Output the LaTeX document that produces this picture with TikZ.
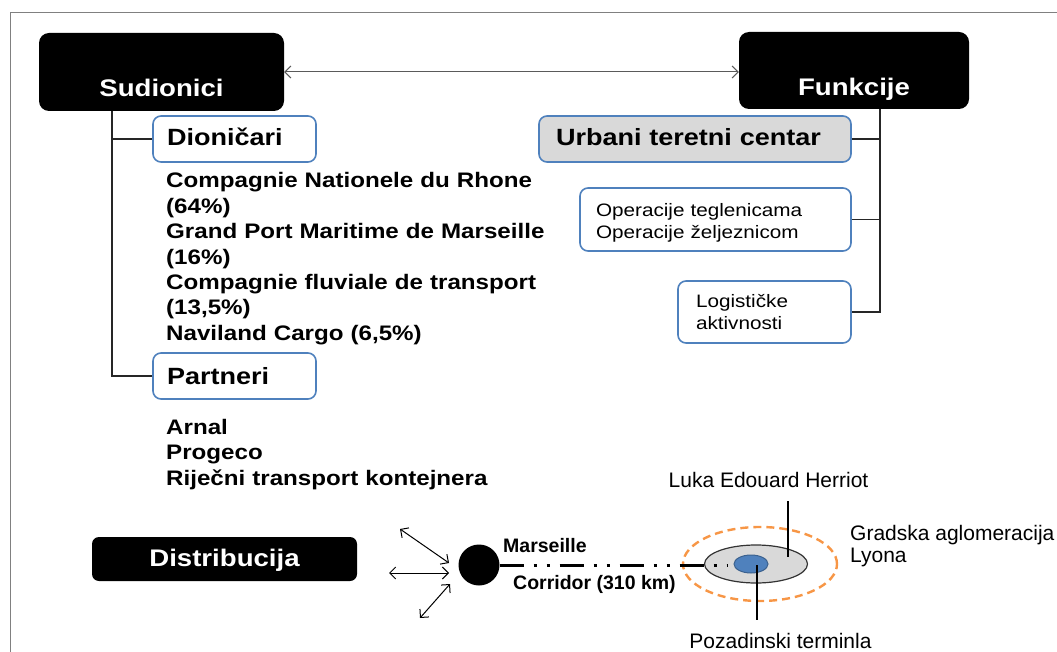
\documentclass[tikz,border=0pt]{standalone}
\usepackage{fontspec}
\setmainfont{Liberation Sans}[FakeStretch=1.15]
\newfontfamily\plainf{Liberation Sans}
\usetikzlibrary{arrows.meta,shapes.geometric}
\definecolor{accblue}{HTML}{4F81BD}
\definecolor{lgray}{HTML}{D9D9D9}
\definecolor{orng}{HTML}{F79646}
\definecolor{framegray}{HTML}{808080}
\begin{document}
\begin{tikzpicture}[x=1pt,y=-1pt,
  blackbox/.style={fill=black, rounded corners=10pt, text=white, inner xsep=0pt, inner ysep=0pt, align=center,
    font=\bfseries\fontsize{24}{28}\selectfont},
  subbox/.style={draw=accblue, line width=1.6pt, fill=white, rounded corners=8pt, inner ysep=0pt, align=left},
  headtxt/.style={font=\bfseries\fontsize{23.5}{28}\selectfont},
  smalltxt/.style={font=\fontsize{18}{22}\selectfont},
  listtxt/.style={inner sep=0pt, align=left, text width=420pt, font=\bfseries\fontsize{21}{25.4}\selectfont},
  tree/.style={draw=black!85, line width=1.3pt},
  barb/.style={{Straight Barb[length=6pt,width=12pt]}-{Straight Barb[length=6pt,width=12pt]}, line width=1pt},
  botb/.style={inner sep=0pt, font=\plainf\bfseries\fontsize{19.5}{22}\selectfont},
  botr/.style={inner sep=0pt, font=\plainf\fontsize{21}{21.5}\selectfont}
]
\useasboundingbox (0,0) rectangle (1057,652);
% frame
\draw[framegray, line width=1pt] (1057,13) -- (10,13) -- (10,652);

% main boxes
\node[blackbox, text width=245pt, text height=64pt, text depth=14pt] (sud) at (161.5,72) {Sudionici};
\node[blackbox, text width=230pt, text height=64pt, text depth=13pt] (fun) at (854,70.5) {Funkcije};
\draw[framegray!70!black, line width=1.3pt, barb] (sud.east) -- (sud.east -| fun.west);

% left side
\node[subbox, headtxt, inner xsep=14pt, text width=135pt, text height=30pt, text depth=16pt] (dio) at (234.5,139) {Dioničari};
\node[subbox, headtxt, inner xsep=14pt, text width=135pt, text height=31pt, text depth=15pt] (par) at (234.5,376) {Partneri};
\coordinate (sj) at (112,0);
\draw[tree] (sj |- sud.south) |- (par.west);
\draw[tree] (sj |- dio.west) -- (dio.west);

\node[listtxt, anchor=base west] (dlist) at (166,188) {Compagnie Nationele du Rhone\\(64\%)\\Grand Port Maritime de Marseille\\(16\%)\\Compagnie fluviale de transport\\(13,5\%)\\Naviland Cargo (6,5\%)};
\node[listtxt, anchor=base west, font=\bfseries\fontsize{21}{25.6}\selectfont] (plist) at (166,434) {Arnal\\Progeco\\Riječni transport kontejnera};

% right side
\node[subbox, headtxt, fill=lgray, inner xsep=17pt, text width=278pt, text height=30pt, text depth=16pt] (urb) at (695,139) {Urbani teretni centar};
\node[subbox, smalltxt, inner xsep=16pt, text width=239pt, text height=28.5pt, text depth=34.5pt] (ops) at (715.5,219.5) {Operacije teglenicama\\Operacije željeznicom};
\node[subbox, smalltxt, inner xsep=18pt, text width=137pt, text height=26pt, text depth=36pt] (log) at (764.5,312) {Logističke\\aktivnosti};
\coordinate (fj) at (880,0);
\draw[tree] (fj |- fun.south) |- (log.east);
\draw[tree] (urb.east) -- (fj |- urb.east);
\draw[tree] (ops.east) -- (fj |- ops.east);

% distribution
\node[blackbox, rounded corners=7pt, text width=265pt, text height=29.5pt, text depth=14.5pt] (dis) at (224.5,559) {Distribucija};

\node[circle, fill=black, minimum size=41pt, inner sep=0pt] (mar) at (479,565) {};
\coordinate (a1s) at (400,529); \coordinate (a1e) at (449,563);
\coordinate (a2s) at (389,573); \coordinate (a2e) at (449,573);
\coordinate (a3s) at (450,584); \coordinate (a3e) at (420,618);
\draw[barb] (a1s) -- (a1e);
\draw[barb] (a2s) -- (a2e);
\draw[barb] (a3s) -- (a3e);

% Lyon
\node[ellipse, draw=orng, dashed, dash pattern=on 8pt off 5pt, line width=2.4pt, minimum width=154pt, minimum height=74pt, inner sep=0pt] (agl) at (760,564) {};
\node[ellipse, draw=black!80, fill=lgray, line width=1.2pt, minimum width=103pt, minimum height=38pt, inner sep=0pt] (city) at (756,564) {};
\node[ellipse, draw=accblue!75!black, fill=accblue, line width=1pt, minimum width=34pt, minimum height=18pt, inner sep=0pt] (term) at (751,564) {};
\coordinate (corrEnd) at (727,565);
\draw[black, line width=3pt, dash pattern=on 24pt off 10pt on 3pt off 10pt on 3pt off 10pt] (mar.east) -- (corrEnd);

\node[botb, anchor=base west] (marl) at (503,552) {Marseille};
\node[botb, anchor=base west] (corl) at (513,589) {Corridor (310 km)};
\node[botr, anchor=base] (luka) at (768.5,487) {Luka Edouard Herriot};
\node[botr, anchor=base west, align=left] (gra) at (850,562) {Gradska aglomeracija\\Lyona};
\node[botr, anchor=base] (poz) at (780.5,648) {Pozadinski terminla};
\coordinate (lkTop) at (788,501); \coordinate (lkBot) at (788,557);
\coordinate (pzTop) at (757,565); \coordinate (pzBot) at (757,620);
\draw[black, line width=1.1pt] (lkTop) -- (lkBot);
\draw[black, line width=1.1pt] (pzTop) -- (pzBot);
\end{tikzpicture}
\end{document}
